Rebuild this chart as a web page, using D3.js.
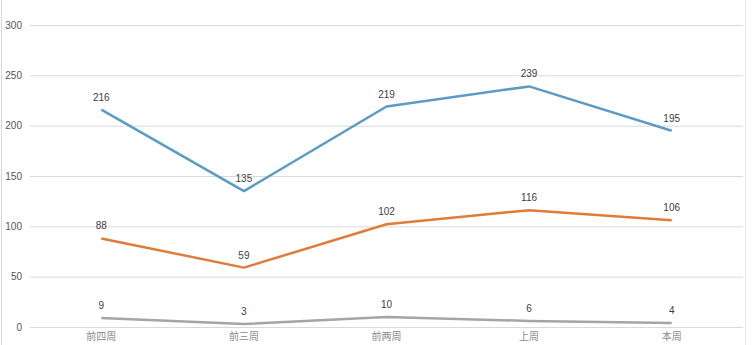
<!DOCTYPE html>
<html>
<head>
<meta charset="utf-8">
<script src="https://cdn.jsdelivr.net/npm/d3@7/dist/d3.min.js"></script>
<style>
  html, body { margin: 0; padding: 0; background: #fff; }
  svg { display: block; }
</style>
</head>
<body>
<svg id="chart" width="755" height="345"></svg>
<script>
// Weekly series
const categories = ["前四周", "前三周", "前两周", "上周", "本周"];
const seriesBlue = [216, 135, 219, 239, 195];
const seriesOrange = [88, 59, 102, 116, 106];
const seriesGray = [9, 3, 10, 6, 4];
const yTicks = [0, 50, 100, 150, 200, 250, 300];

(function () {
  const series = [
    { values: seriesBlue, color: "#5b9bc5" },
    { values: seriesOrange, color: "#e07c3a" },
    { values: seriesGray, color: "#a5a5a5" }
  ];

  const svg = d3.select("#chart");
  const plotLeft = 30, plotRight = 743, plotTop = 25, plotBottom = 327;

  // frame edges
  svg.append("line").attr("x1", 1.5).attr("x2", 1.5).attr("y1", 0).attr("y2", 345)
    .attr("stroke", "#d9d9d9").attr("stroke-width", 1);
  svg.append("line").attr("x1", 745.5).attr("x2", 745.5).attr("y1", 0).attr("y2", 345)
    .attr("stroke", "#e6e6e6").attr("stroke-width", 1);

  const x = d3.scaleBand().domain(categories).range([plotLeft, plotRight]);
  const y = d3.scaleLinear().domain([0, 300]).range([plotBottom, plotTop]);

  // gridlines and y labels
  const yAxis = d3.axisLeft(y).tickValues(yTicks).tickSize(-(plotRight - plotLeft)).tickPadding(8);
  const gy = svg.append("g").attr("transform", `translate(${plotLeft},0)`).call(yAxis);
  gy.select(".domain").remove();
  gy.selectAll(".tick line").attr("stroke", "#d9d9d9");
  gy.selectAll(".tick text").attr("fill", "#555").attr("font-size", "10px")
    .attr("font-family", "Liberation Sans, Arial, sans-serif");

  // category labels
  const xAxis = d3.axisBottom(x).tickSize(0).tickPadding(6);
  const gx = svg.append("g").attr("transform", `translate(0,${plotBottom})`).call(xAxis);
  gx.select(".domain").remove();
  gx.selectAll(".tick text").attr("fill", "#8a8a8a").attr("font-size", "10px")
    .attr("font-family", "Noto Sans CJK SC, sans-serif");

  const cx = d => x(d) + x.bandwidth() / 2;
  const line = d3.line().x((d, i) => cx(categories[i])).y(d => y(d));

  series.forEach(s => {
    svg.append("path").datum(s.values)
      .attr("d", line)
      .attr("fill", "none")
      .attr("stroke", s.color)
      .attr("stroke-width", 2.5)
      .attr("stroke-linejoin", "round");

    svg.append("g").selectAll("text").data(s.values).join("text")
      .attr("x", (d, i) => cx(categories[i]))
      .attr("y", d => y(d) - 9)
      .attr("text-anchor", "middle")
      .attr("font-size", "10px")
      .attr("font-family", "Liberation Sans, Arial, sans-serif")
      .attr("fill", "#404040")
      .text(d => d);
  });
})();
</script>
</body>
</html>
